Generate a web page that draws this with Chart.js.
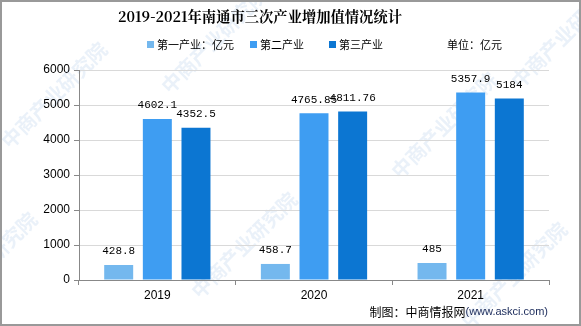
<!DOCTYPE html>
<html>
<head>
<meta charset="utf-8">
<script src="https://cdn.jsdelivr.net/npm/chart.js@4/dist/chart.umd.min.js"></script>
<style>
  html, body { margin: 0; padding: 0; background: #fff; }
  #wrap { width: 581px; height: 326px; }
</style>
</head>
<body>
<div id="wrap"><canvas id="grafico" width="581" height="326"></canvas></div>
<script>
// dados do gráfico
const anos = ['2019', '2020', '2021'];
const primeiro = [428.8, 458.7, 485];
const segundo = [4602.1, 4765.85, 5357.9];
const terceiro = [4352.5, 4811.76, 5184];
const rotulos1 = ['428.8', '458.7', '485'];
const rotulos2 = ['4602.1', '4765.85', '5357.9'];
const rotulos3 = ['4352.5', '4811.76', '5184'];
const nomesSeries = ['第一产业：亿元', '第二产业', '第三产业'];
const cores = ['#74b8ee', '#3e9df2', '#0c76d2'];
const titulo = '2019-2021年南通市三次产业增加值情况统计';

// plugin que desenha título, legenda, marca d'água e rótulos
const extras = {
  id: 'extras',
  beforeDraw(chart) {
    const ctx = chart.ctx;
    ctx.save();
    ctx.fillStyle = 'rgba(170,200,230,0.25)';
    ctx.font = 'bold 20px "Noto Sans CJK SC"';
    const pos = [[10, 150], [170, 95], [200, 300], [400, 180], [470, 330], [520, 90], [-60, 320]];
    pos.forEach(p => {
      ctx.save();
      ctx.translate(p[0], p[1]);
      ctx.rotate(-Math.PI / 4);
      ctx.fillText('中商产业研究院', 0, 0);
      ctx.restore();
    });
    ctx.restore();
  },
  afterDraw(chart) {
    const ctx = chart.ctx;
    ctx.save();
    // título
    ctx.fillStyle = '#000';
    ctx.font = 'bold 14.3px "Noto Serif CJK SC", "Noto Sans CJK SC", serif';
    ctx.textAlign = 'center';
    ctx.textBaseline = 'middle';
    ctx.fillText(titulo, 260, 17);

    // legenda
    ctx.font = '11px "Noto Sans CJK SC"';
    ctx.textAlign = 'left';
    const xs = [147, 250, 329];
    nomesSeries.forEach((n, i) => {
      ctx.fillStyle = cores[i];
      ctx.fillRect(xs[i], 41, 7, 7);
      ctx.fillStyle = '#000';
      ctx.fillText(n, xs[i] + 10, 45);
    });
    ctx.fillText('单位：亿元', 447, 45);

    // fonte
    ctx.textAlign = 'right';
    ctx.font = '11px "Liberation Sans"';
    ctx.fillStyle = '#1a2a5a';
    const site = '(www.askci.com)';
    ctx.fillText(site, 548, 312);
    const w = ctx.measureText(site).width;
    ctx.font = '12px "Noto Sans CJK SC"';
    ctx.fillStyle = '#000';
    ctx.fillText('制图：中商情报网', 548 - w, 312);

    // rótulos das barras
    const textos = [rotulos1, rotulos2, rotulos3];
    ctx.fillStyle = '#000';
    ctx.font = '11px "Liberation Mono"';
    ctx.textAlign = 'center';
    ctx.textBaseline = 'bottom';
    chart.data.datasets.forEach((ds, i) => {
      chart.getDatasetMeta(i).data.forEach((bar, j) => {
        ctx.fillText(textos[i][j], bar.x, bar.y - 8);
      });
    });

    // moldura
    ctx.strokeStyle = '#999';
    ctx.lineWidth = 2;
    ctx.strokeRect(1, 1, 579, 324);
    ctx.restore();
  }
};

new Chart(document.getElementById('grafico').getContext('2d'), {
  type: 'bar',
  data: {
    labels: anos,
    datasets: [
      { label: nomesSeries[0], data: primeiro, backgroundColor: cores[0] },
      { label: nomesSeries[1], data: segundo, backgroundColor: cores[1] },
      { label: nomesSeries[2], data: terceiro, backgroundColor: cores[2] }
    ]
  },
  options: {
    responsive: false,
    animation: false,
    layout: { padding: { left: 0, right: 32, top: 70, bottom: 0 } },
    datasets: { bar: { categoryPercentage: 0.74, barPercentage: 0.75 } },
    plugins: { legend: { display: false }, title: { display: false }, tooltip: { enabled: false } },
    scales: {
      x: {
        grid: { drawOnChartArea: false, color: '#888', tickLength: 5 },
        border: { color: '#888' },
        ticks: { color: '#000', font: { family: 'Liberation Sans', size: 12 }, padding: 3 },
        afterFit(s) { s.height = 46; }
      },
      y: {
        min: 0, max: 6000,
        ticks: {
          stepSize: 1000, color: '#000', font: { family: 'Liberation Sans', size: 12 }, padding: 4,
          callback: v => String(v)
        },
        grid: { color: '#d9d9d9', tickLength: 5, tickColor: '#888' },
        border: { color: '#888' },
        afterFit(s) { s.width = 79; }
      }
    }
  },
  plugins: [extras]
});
</script>
</body>
</html>
